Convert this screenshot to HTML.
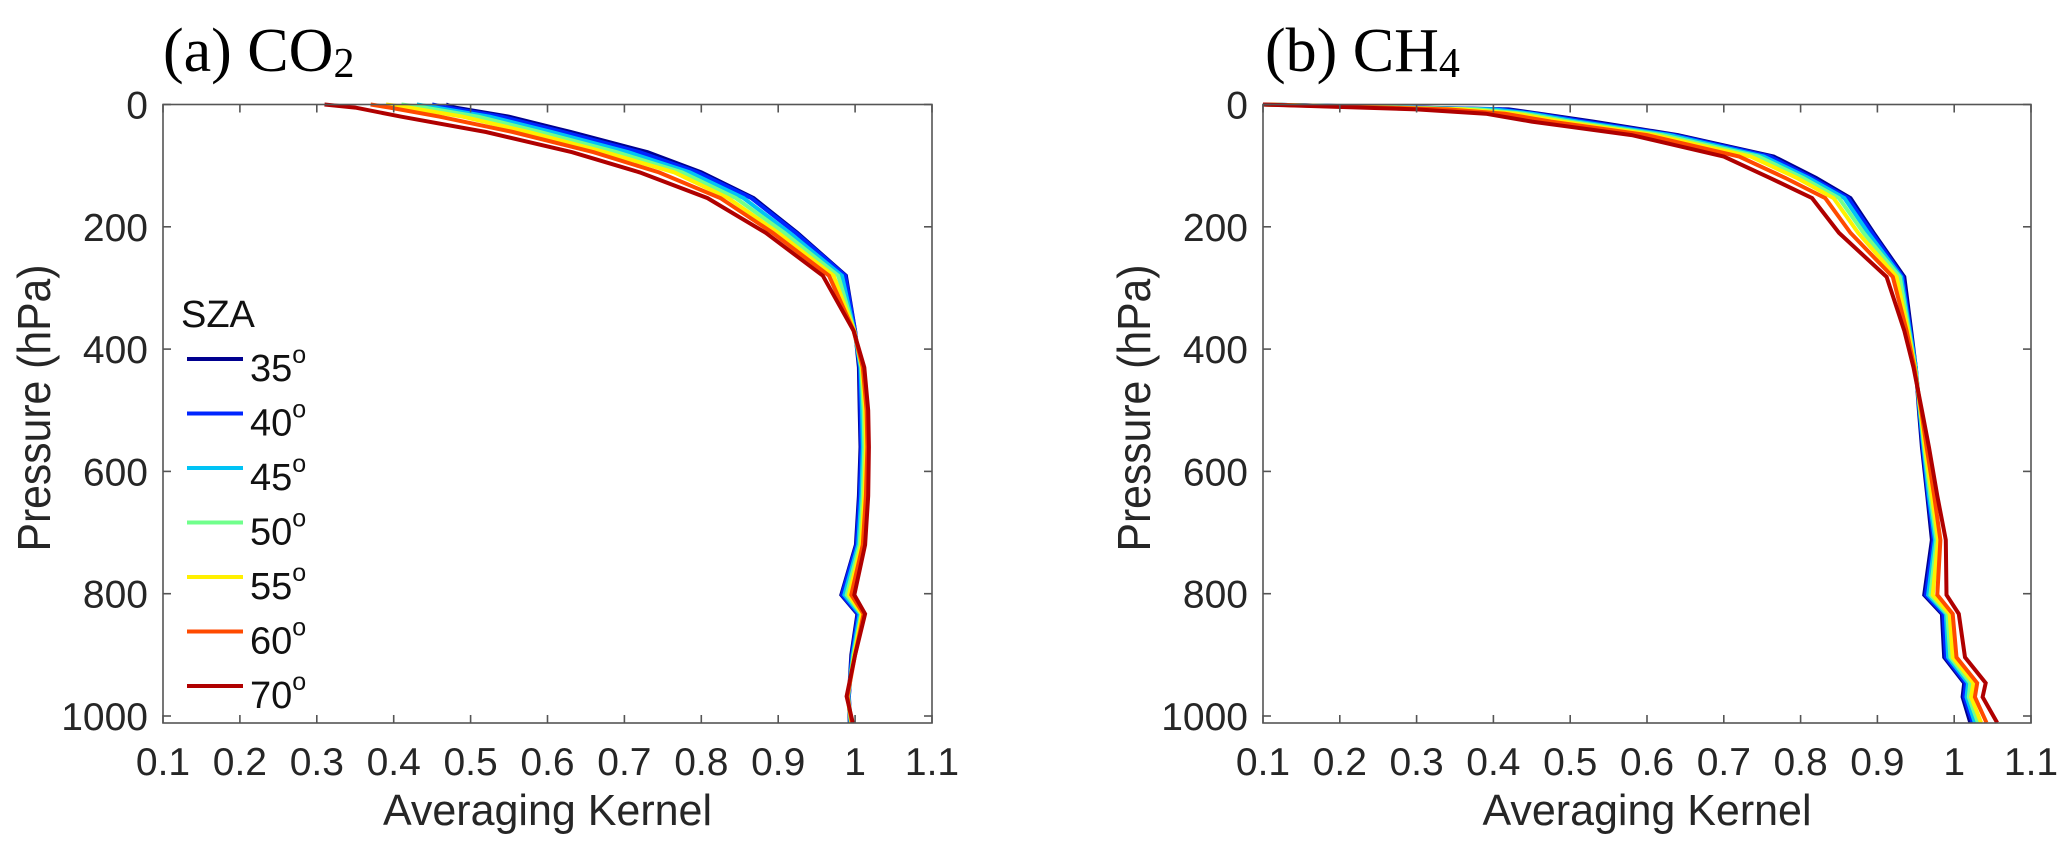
<!DOCTYPE html>
<html><head><meta charset="utf-8"><style>
html,body{margin:0;padding:0;background:#fff;}
svg{display:block;font-family:"Liberation Sans",Arial,sans-serif;}
</style></head><body>
<svg id="fig" width="2067" height="852" viewBox="0 0 2067 852" xmlns="http://www.w3.org/2000/svg"></svg>
<script>
const szaLabels = ["35","40","45","50","55","60","70"];
const szaColors = ["#00008F","#0025FF","#00C3F5","#70FF8C","#FFF000","#FF4A00","#B00000"];
const xTicks = [0.1,0.2,0.3,0.4,0.5,0.6,0.7,0.8,0.9,1,1.1];
const xTickLabels = ["0.1","0.2","0.3","0.4","0.5","0.6","0.7","0.8","0.9","1","1.1"];
const yTicks = [0,200,400,600,800,1000];
const yTickLabels = ["0","200","400","600","800","1000"];

const co2Levels = [0,5,20,45,78,111,153,210,280,370,430,500,560,640,720,802,833,900,968,1011];
const co2_35 = [0.468,0.48,0.55,0.63,0.73,0.80,0.868,0.925,0.988,1.0,1.005,1.006,1.007,1.005,1.001,0.982,1.003,0.995,0.992,0.993];
const co2_40 = [0.45,0.47,0.54,0.62,0.72,0.795,0.865,0.923,0.987,1.0,1.006,1.007,1.008,1.006,1.002,0.983,1.004,0.996,0.992,0.994];
const co2_45 = [0.43,0.455,0.525,0.605,0.705,0.785,0.855,0.915,0.983,0.999,1.007,1.009,1.01,1.008,1.004,0.986,1.006,0.997,0.991,0.994];
const co2_50 = [0.41,0.44,0.51,0.59,0.69,0.775,0.845,0.908,0.978,0.999,1.008,1.011,1.012,1.01,1.006,0.989,1.008,0.998,0.991,0.995];
const co2_55 = [0.39,0.42,0.49,0.575,0.675,0.765,0.835,0.9,0.972,0.999,1.009,1.013,1.014,1.012,1.008,0.992,1.009,0.999,0.99,0.995];
const co2_60 = [0.37,0.395,0.46,0.555,0.66,0.745,0.825,0.893,0.966,0.998,1.01,1.015,1.016,1.014,1.01,0.995,1.011,1.0,0.99,0.996];
const co2_70 = [0.31,0.35,0.41,0.52,0.632,0.72,0.808,0.884,0.958,0.998,1.012,1.017,1.018,1.017,1.013,0.999,1.013,1.0,0.989,0.997];

const ch4Levels = [0,8,15,28,50,85,120,153,210,282,370,430,500,560,640,712,802,833,904,946,969,1011];
const ch4_35 = [0.1,0.42,0.46,0.53,0.64,0.765,0.82,0.865,0.895,0.935,0.944,0.95,0.954,0.958,0.965,0.971,0.961,0.984,0.987,1.013,1.011,1.021];
const ch4_40 = [0.1,0.41,0.455,0.52,0.635,0.76,0.815,0.862,0.893,0.933,0.943,0.95,0.955,0.959,0.966,0.973,0.963,0.986,0.989,1.015,1.013,1.024];
const ch4_45 = [0.1,0.40,0.45,0.51,0.63,0.752,0.81,0.857,0.888,0.931,0.942,0.95,0.955,0.96,0.967,0.975,0.966,0.989,0.992,1.018,1.016,1.027];
const ch4_50 = [0.1,0.38,0.44,0.50,0.62,0.745,0.803,0.85,0.882,0.929,0.941,0.949,0.956,0.961,0.969,0.977,0.969,0.991,0.995,1.021,1.019,1.031];
const ch4_55 = [0.1,0.36,0.43,0.49,0.61,0.735,0.795,0.843,0.875,0.925,0.94,0.949,0.956,0.962,0.971,0.979,0.972,0.994,0.998,1.025,1.022,1.035];
const ch4_60 = [0.1,0.34,0.415,0.475,0.60,0.72,0.78,0.832,0.865,0.92,0.938,0.948,0.957,0.964,0.974,0.982,0.978,0.998,1.003,1.03,1.027,1.042];
const ch4_70 = [0.1,0.30,0.39,0.45,0.58,0.70,0.76,0.815,0.85,0.912,0.935,0.947,0.958,0.967,0.978,0.989,0.99,1.006,1.014,1.041,1.037,1.056];

const NS = "http://www.w3.org/2000/svg";
const svg = document.getElementById("fig");
function mk(tag, attrs, parent){
  const e = document.createElementNS(NS, tag);
  for (const k in attrs) e.setAttribute(k, attrs[k]);
  (parent||svg).appendChild(e);
  return e;
}

function drawPanel(cfg){
  const g = mk("g", {});
  
  
  const L = cfg.left, R = cfg.right, T = 104.5, B = 723;
  const xS = v => L + (v - 0.1) / 1.0 * (R - L);
  const yS = p => T + p * 0.6115;

  cfg.series.forEach((vals, i) => {
    const pts = vals.map((v, j) => xS(v).toFixed(1) + "," + yS(cfg.levels[j]).toFixed(1)).join(" ");
    const pl = mk("polyline", {points: pts, fill: "none", stroke: szaColors[i], "stroke-width": 4, "stroke-linejoin": "miter"}, g);
    
    
  });

  const fr = mk("rect", {x: L, y: T, width: R - L, height: B - T, fill: "none", stroke: "#555", "stroke-width": 1.6}, g);
  
  

  xTicks.forEach((t, i) => {
    const x = xS(t);
    mk("line", {x1: x, y1: B, x2: x, y2: B - 8, stroke: "#555", "stroke-width": 1.6}, g);
    mk("line", {x1: x, y1: T, x2: x, y2: T + 8, stroke: "#555", "stroke-width": 1.6}, g);
    const tx = mk("text", {x: x, y: 775, "text-anchor": "middle", "font-size": 39, fill: "#262626"}, g);
    tx.textContent = xTickLabels[i];
    
    
  });
  yTicks.forEach((t, i) => {
    const y = yS(t);
    mk("line", {x1: L, y1: y, x2: L + 8, y2: y, stroke: "#555", "stroke-width": 1.6}, g);
    mk("line", {x1: R, y1: y, x2: R - 8, y2: y, stroke: "#555", "stroke-width": 1.6}, g);
    const ty = mk("text", {x: L - 15, y: y + 14, "text-anchor": "end", "font-size": 39, fill: "#262626"}, g);
    ty.textContent = yTickLabels[i];
    
    
  });

  const xl = mk("text", {x: (L + R) / 2 + 0, y: 825, "text-anchor": "middle", "font-size": 44, fill: "#262626", textLength: 329, lengthAdjust: "spacingAndGlyphs"}, g);
  xl.textContent = "Averaging Kernel";
  
  
  const yx = L - 113, yy = 408;
  const yl = mk("text", {x: yx, y: yy, "text-anchor": "middle", "font-size": 46, fill: "#262626", textLength: 287, lengthAdjust: "spacingAndGlyphs", transform: "rotate(-90 " + yx + " " + yy + ")"}, g);
  yl.textContent = "Pressure (hPa)";
  
  
}

drawPanel({name: "co2-panel", gas: "co2", left: 163, right: 932, levels: co2Levels,
  series: [co2_35, co2_40, co2_45, co2_50, co2_55, co2_60, co2_70]});
drawPanel({name: "ch4-panel", gas: "ch4", left: 1263, right: 2031, levels: ch4Levels,
  series: [ch4_35, ch4_40, ch4_45, ch4_50, ch4_55, ch4_60, ch4_70]});

const lg = mk("g", {});


const lt = mk("text", {x: 181, y: 327, "font-size": 38, fill: "#111"}, lg);
lt.textContent = "SZA";


szaLabels.forEach((s, i) => {
  const y = 359 + i * 54.5;
  const ln = mk("line", {x1: 187, y1: y, x2: 243, y2: y, stroke: szaColors[i], "stroke-width": 4}, lg);
  
  
  const t = mk("text", {x: 250, y: y + 22, "font-size": 38, fill: "#111"}, lg);
  
  
  t.appendChild(document.createTextNode(s));
  const sup = mk("tspan", {dy: -18, "font-size": 25}, t);
  sup.textContent = "o";
});
</script>
<svg style="position:absolute;left:0;top:0" width="2067" height="120">
  <text x="163" y="71" font-family="Liberation Serif, serif" font-size="62" fill="#000">(a) CO<tspan font-size="42" dy="6">2</tspan></text>
  <text x="1265" y="71" font-family="Liberation Serif, serif" font-size="62" fill="#000">(b) CH<tspan font-size="42" dy="6">4</tspan></text>
</svg>
</body></html>
